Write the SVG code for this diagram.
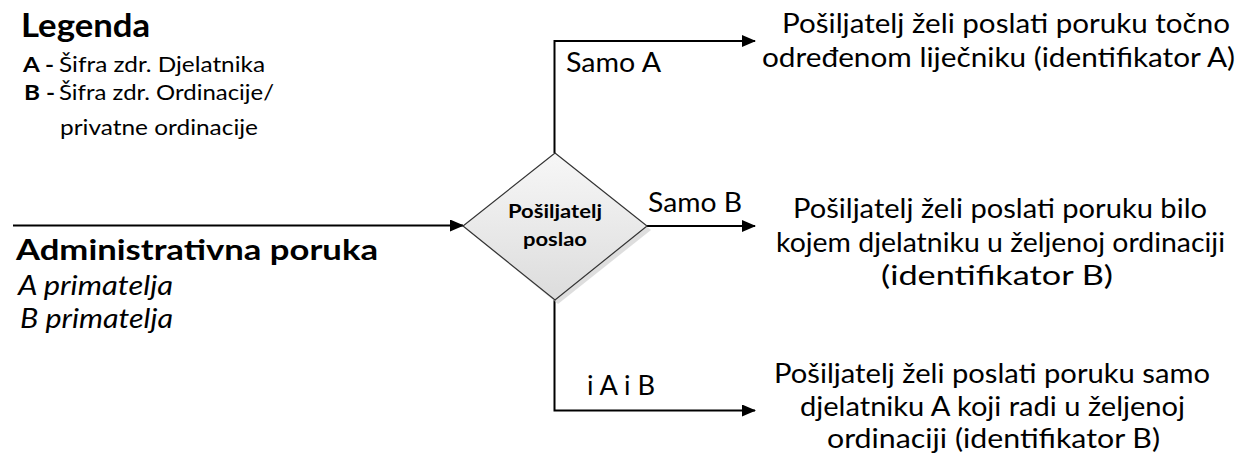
<svg xmlns="http://www.w3.org/2000/svg" width="1255" height="462" viewBox="0 0 1255 462">
<style>
text{font-family:Lato,"Open Sans","Liberation Sans",sans-serif;fill:#000}
.r{font-size:27px}
.lg{font-size:21px}
.b{font-weight:bold}
.i{font-style:italic}
.c{stroke:#000;stroke-width:2;fill:none}
</style>
<defs>
<marker id="ah" markerWidth="14" markerHeight="12" refX="13" refY="6" orient="auto" markerUnits="userSpaceOnUse">
<path d="M0,0 L14,6 L0,12 Z" fill="#000"/>
</marker>
<linearGradient id="dg" x1="0" y1="0" x2="0" y2="1">
<stop offset="0" stop-color="#f7f7f7"/>
<stop offset="1" stop-color="#dcdcdc"/>
</linearGradient>
</defs>
<g id="legend">
<text x="21" y="37" class="b" font-size="32" textLength="129" lengthAdjust="spacingAndGlyphs">Legenda</text>
<text x="23" y="72" class="lg b" textLength="31" lengthAdjust="spacingAndGlyphs">A -</text>
<text x="59" y="72" class="lg" textLength="206" lengthAdjust="spacingAndGlyphs">Šifra zdr. Djelatnika</text>
<text x="24" y="100" class="lg b" textLength="31" lengthAdjust="spacingAndGlyphs">B -</text>
<text x="59" y="100" class="lg" textLength="215" lengthAdjust="spacingAndGlyphs">Šifra zdr. Ordinacije/</text>
<text x="60" y="135" class="lg" textLength="198" lengthAdjust="spacingAndGlyphs">privatne ordinacije</text>
</g>
<g id="input">
<text x="16" y="260" class="b" font-size="28" textLength="362" lengthAdjust="spacingAndGlyphs">Administrativna poruka</text>
<text x="18" y="295" class="r i" textLength="155" lengthAdjust="spacingAndGlyphs">A primatelja</text>
<text x="20" y="328" class="r i" textLength="153" lengthAdjust="spacingAndGlyphs">B primatelja</text>
</g>
<g id="connectors">
<line class="c" x1="13" y1="225.5" x2="463" y2="225.5" marker-end="url(#ah)"/>
<polyline class="c" points="554.5,153 554.5,41 755,41" marker-end="url(#ah)"/>
<line class="c" x1="647" y1="226" x2="755" y2="226" marker-end="url(#ah)"/>
<polyline class="c" points="554.5,300 554.5,410.5 755,410.5" marker-end="url(#ah)"/>
</g>
<g id="decision">
<polygon points="558,157 651,230 558,304 467,230" fill="#c8c8c8" opacity="0.6"/>
<polygon points="555,153 647,226 555,300 463,226" fill="url(#dg)" stroke="#333" stroke-width="1.2"/>
<text x="508" y="218" class="b" font-size="19" textLength="94" lengthAdjust="spacingAndGlyphs">Pošiljatelj</text>
<text x="523" y="246" class="b" font-size="19" textLength="64" lengthAdjust="spacingAndGlyphs">poslao</text>
</g>
<g id="labels">
<text x="566" y="72" class="r" textLength="95" lengthAdjust="spacingAndGlyphs">Samo A</text>
<text x="648" y="212" class="r" textLength="94" lengthAdjust="spacingAndGlyphs">Samo B</text>
<text x="587" y="395" class="r" textLength="68" lengthAdjust="spacingAndGlyphs">i A i B</text>
</g>
<g id="outA">
<text x="782" y="33" class="r" textLength="448" lengthAdjust="spacingAndGlyphs">Pošiljatelj želi poslati poruku točno</text>
<text x="762" y="67" class="r" textLength="473" lengthAdjust="spacingAndGlyphs">određenom liječniku (identifikator A)</text>
</g>
<g id="outB">
<text x="793" y="218" class="r" textLength="414" lengthAdjust="spacingAndGlyphs">Pošiljatelj želi poslati poruku bilo</text>
<text x="776" y="252" class="r" textLength="449" lengthAdjust="spacingAndGlyphs">kojem djelatniku u željenoj ordinaciji</text>
<text x="881" y="285" class="r" textLength="232" lengthAdjust="spacingAndGlyphs">(identifikator B)</text>
</g>
<g id="outAB">
<text x="774" y="383" class="r" textLength="436" lengthAdjust="spacingAndGlyphs">Pošiljatelj želi poslati poruku samo</text>
<text x="800" y="416" class="r" textLength="385" lengthAdjust="spacingAndGlyphs">djelatniku A koji radi u željenoj</text>
<text x="827" y="448" class="r" textLength="333" lengthAdjust="spacingAndGlyphs">ordinaciji (identifikator B)</text>
</g>
</svg>
